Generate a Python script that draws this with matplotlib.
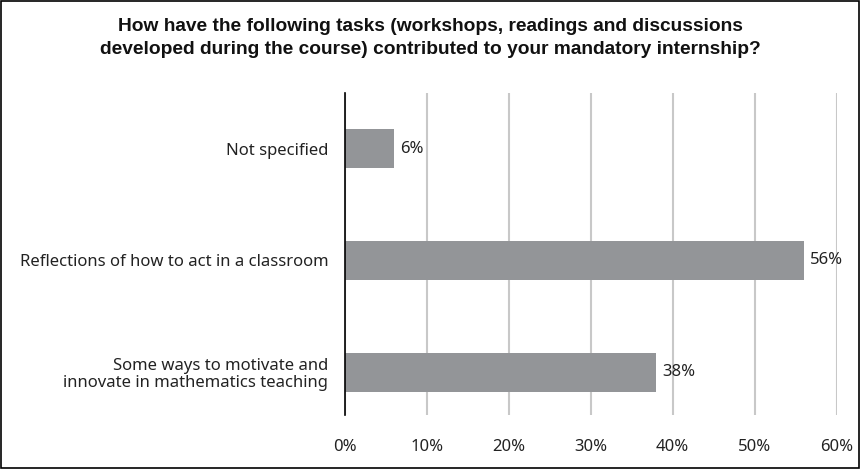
import matplotlib.pyplot as plt
from matplotlib.patches import Rectangle

categories = ['Not specified', 'Reflections of how to act in a classroom',
              'Some ways to motivate and\ninnovate in mathematics teaching']
values = [6, 56, 38]
ticks = [0, 10, 20, 30, 40, 50, 60]
tick_labels = ['0%', '10%', '20%', '30%', '40%', '50%', '60%']

plt.rcParams['font.family'] = ['Noto Sans', 'DejaVu Sans']

fig = plt.figure(figsize=(8.61, 4.69), dpi=100)
ax = fig.add_axes([0.4007, 0.1151, 0.5709, 0.6866])

ax.barh(range(len(categories)), values, height=0.35, color='#939598', zorder=3)
for i, v in enumerate(values):
    ax.text(v + 0.7, i, f'{v}%', va='center', ha='left', fontsize=12, color='#222222')

ax.set_xlim(0, 60)
ax.set_ylim(2.385, -0.5)
ax.set_xticks(ticks)
ax.set_xticklabels(tick_labels, fontsize=12, color='#222222')
ax.set_yticks(range(len(categories)))
ax.set_yticklabels(categories, fontsize=12, color='#222222', ha='right', linespacing=1.05)
ax.tick_params(axis='both', length=0)
ax.tick_params(axis='x', pad=17)
ax.tick_params(axis='y', pad=12)
ax.xaxis.grid(True, color='#c8c8c8', linewidth=1.5, zorder=0)
for s in ['top', 'right', 'bottom']:
    ax.spines[s].set_visible(False)
ax.spines['left'].set_color('black')
ax.spines['left'].set_linewidth(1.2)
ax.spines['left'].set_zorder(4)

fig.text(0.5, 0.919, 'How have the following tasks (workshops, readings and discussions\n'
         'developed during the course) contributed to your mandatory internship?',
         ha='center', va='center', fontsize=13.8, fontweight='bold',
         family='Liberation Sans', color='#111111', linespacing=1.4)

fig.patches.append(Rectangle((0.001, 0.002), 0.997, 0.995, transform=fig.transFigure,
                             fill=False, edgecolor='black', linewidth=1.2))

fig.savefig('out.png', dpi=100)
